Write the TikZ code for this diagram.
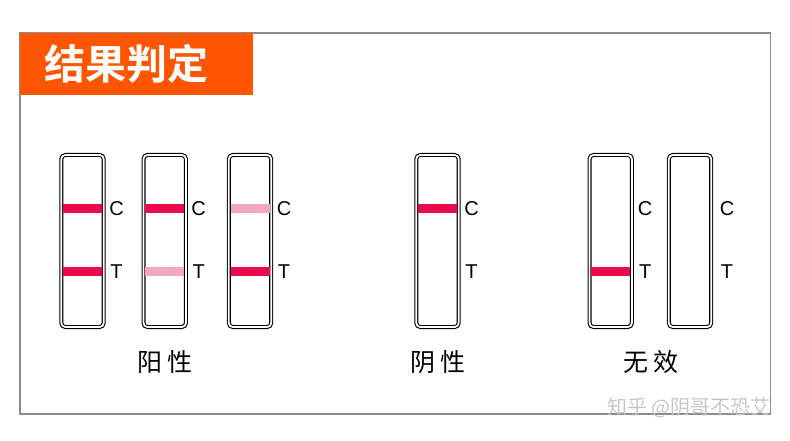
\documentclass[tikz,border=0pt]{standalone}
\usepackage{fontspec}
\setmainfont{Liberation Sans}
\newfontfamily\cjk{Noto Sans CJK SC}[BoldFont={* Bold}]
\definecolor{banner}{HTML}{FF5500}
\definecolor{bandred}{HTML}{EC0C4E}
\definecolor{bandpale}{HTML}{F6A8C2}
\definecolor{framegray}{HTML}{8C8C8C}
\tikzset{
  strip/.style={draw, double, double distance=1.8pt, line width=1.1pt,
    rounded corners=4pt, minimum width=42.4pt, minimum height=172pt, inner sep=0pt},
  band/.style={fill=#1, minimum width=39pt, minimum height=9pt, inner sep=0pt},
  letter/.style={inner sep=0pt, font=\fontsize{20}{20}\selectfont},
  result/.style={inner sep=0pt, font=\cjk\fontsize{25}{25}\selectfont}
}
\begin{document}
\begin{tikzpicture}[x=1pt,y=-1pt]
\useasboundingbox (0,0) rectangle (790,441);
% frame and banner
\draw [framegray, line width=1.2pt] (20,33) rectangle (770.5,414);
\fill [banner] (20,33) rectangle (252.7,95);
\node [text=white, inner sep=0pt, font=\cjk\bfseries\fontsize{41}{41}\selectfont] (title) at (126,64) {结果判定};
% positive
\node [strip] (p1) at (82.5,241) {};
\node [band=bandred] (p1c) at (82.5,208) {};
\node [band=bandred] (p1t) at (82.5,271) {};
\node [letter] (p1cl) at (116.5,209) {C};
\node [letter] (p1tl) at (116.5,272) {T};
\node [strip] (p2) at (164.7,241) {};
\node [band=bandred] (p2c) at (164.7,208) {};
\node [band=bandpale] (p2t) at (164.7,271) {};
\node [letter] (p2cl) at (198.7,209) {C};
\node [letter] (p2tl) at (198.7,272) {T};
\node [strip] (p3) at (250,241) {};
\node [band=bandpale] (p3c) at (250,208) {};
\node [band=bandred] (p3t) at (250,271) {};
\node [letter] (p3cl) at (284,209) {C};
\node [letter] (p3tl) at (284,272) {T};
\node [result] (pos) at (165,362) {阳 性};
% negative
\node [strip] (n1) at (437.5,241) {};
\node [band=bandred] (n1c) at (437.5,208) {};
\node [letter] (n1cl) at (471.5,209) {C};
\node [letter] (n1tl) at (471.5,272) {T};
\node [result] (neg) at (438,362) {阴 性};
% invalid
\node [strip] (v1) at (610.7,241) {};
\node [band=bandred] (v1t) at (610.7,271) {};
\node [letter] (v1cl) at (645.2,209) {C};
\node [letter] (v1tl) at (645.2,272) {T};
\node [strip] (v2) at (690,241) {};
\node [letter] (v2cl) at (727,209) {C};
\node [letter] (v2tl) at (727,272) {T};
\node [result] (inv) at (651,362) {无 效};
% watermark
\node [text=black!22, inner sep=0pt, anchor=east, font=\cjk\fontsize{20}{20}\selectfont] (mark) at (771,408) {知乎 @阴哥不恐艾};
\end{tikzpicture}
\end{document}
